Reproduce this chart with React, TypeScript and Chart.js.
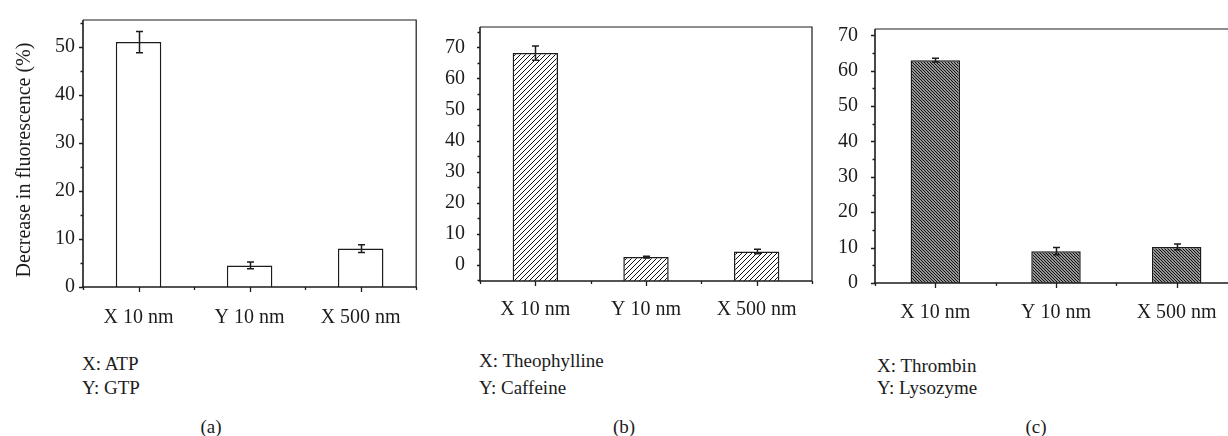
import React, { useEffect, useRef } from "react";
import { Chart, registerables } from "chart.js";

Chart.register(...registerables);

// ---------- data ----------
const categories = ["X 10 nm", "Y 10 nm", "X 500 nm"];

const valuesA = [51, 4.5, 8];
const errorsA = [2.2, 0.7, 0.8];
const valuesB = [68.2, 2.4, 4.2];
const errorsB = [2.3, 0.3, 0.7];
const valuesC = [63, 9, 10.2];
const errorsC = [0.5, 1.0, 0.8];

const yTicksA = [0, 10, 20, 30, 40, 50];
const yMinorA = [5, 15, 25, 35, 45, 55];
const yTicksB = [0, 10, 20, 30, 40, 50, 60, 70];
const yMinorB = [-5, 5, 15, 25, 35, 45, 55, 65, 75];
const yTicksC = [0, 10, 20, 30, 40, 50, 60, 70];
const yMinorC = [5, 15, 25, 35, 45, 55, 65];

const yRangeA = [0, 55.6];
const yRangeB = [-5.3, 76.6];
const yRangeC = [0, 71.8];

const yAxisTitle = "Decrease in fluorescence (%)";
const analytesA = ["X: ATP", "Y: GTP"];
const analytesB = ["X: Theophylline", "Y: Caffeine"];
const analytesC = ["X: Thrombin", "Y: Lysozyme"];
const panelLabels = ["(a)", "(b)", "(c)"];

const FONT = "'Liberation Serif', 'Times New Roman', serif";
const INK = "#1c1c1c";

// ---------- plugins ----------
const framePlugin = {
  id: "frameTicks",
  afterDatasetsDraw(chart: any) {
    const o = chart.options.plugins.frameTicks;
    if (!o) return;
    const { ctx, chartArea } = chart;
    const { left, right, top, bottom } = chartArea;
    const y = chart.scales.y;
    const x = chart.scales.x;
    ctx.save();
    ctx.strokeStyle = INK;
    // top & right frame
    ctx.lineWidth = 1.2;
    ctx.beginPath();
    ctx.moveTo(left, top);
    ctx.lineTo(right, top);
    ctx.lineTo(right, bottom);
    ctx.stroke();
    // left & bottom axes
    ctx.lineWidth = 1.6;
    ctx.beginPath();
    ctx.moveTo(left, top);
    ctx.lineTo(left, bottom);
    ctx.moveTo(left - 1, bottom);
    ctx.lineTo(right, bottom);
    ctx.stroke();
    // y ticks
    ctx.lineWidth = 1.3;
    ctx.beginPath();
    for (const v of o.major) {
      const py = Math.round(y.getPixelForValue(v)) + 0.5;
      ctx.moveTo(left, py);
      ctx.lineTo(left - o.majorLen, py);
    }
    for (const v of o.minor) {
      const py = Math.round(y.getPixelForValue(v)) + 0.5;
      if (py < top - 1 || py > bottom + 1) continue;
      ctx.moveTo(left, py);
      ctx.lineTo(left - o.minorLen, py);
    }
    // x ticks
    const n = chart.data.labels.length;
    for (let i = 0; i < n; i++) {
      const px = Math.round(x.getPixelForValue(i)) + 0.5;
      ctx.moveTo(px, bottom);
      ctx.lineTo(px, bottom + o.xMajorLen);
    }
    for (let i = 0; i <= n; i++) {
      let px;
      if (i === 0) px = left;
      else if (i === n) px = right;
      else px = (x.getPixelForValue(i - 1) + x.getPixelForValue(i)) / 2;
      px = Math.round(px) + 0.5;
      ctx.moveTo(px, bottom);
      ctx.lineTo(px, bottom + o.xMinorLen);
    }
    ctx.stroke();
    ctx.restore();
  },
};

const errorBarPlugin = {
  id: "errorBars",
  afterDatasetsDraw(chart: any) {
    const o = chart.options.plugins.errorBars;
    if (!o) return;
    const { ctx } = chart;
    const meta = chart.getDatasetMeta(0);
    const y = chart.scales.y;
    const vals = chart.data.datasets[0].data;
    ctx.save();
    ctx.strokeStyle = INK;
    ctx.lineWidth = 1.5;
    meta.data.forEach((bar: any, i: number) => {
      const v = vals[i];
      const e = o.errors[i];
      const x = Math.round(bar.x) + 0.5;
      const yt = y.getPixelForValue(v + e);
      const yb = y.getPixelForValue(v - e);
      ctx.beginPath();
      ctx.moveTo(x, yt);
      ctx.lineTo(x, yb);
      ctx.moveTo(x - o.cap, yt);
      ctx.lineTo(x + o.cap, yt);
      ctx.moveTo(x - o.cap, yb);
      ctx.lineTo(x + o.cap, yb);
      ctx.stroke();
    });
    ctx.restore();
  },
};

function makePattern(kind: "slash" | "dense"): CanvasPattern | string {
  const c = document.createElement("canvas");
  const s = kind === "slash" ? 5 : 3;
  c.width = s;
  c.height = s;
  const g = c.getContext("2d")!;
  g.fillStyle = "#ffffff";
  g.fillRect(0, 0, s, s);
  g.strokeStyle = "#111";
  if (kind === "slash") {
    g.lineWidth = 1;
    g.beginPath();
    g.moveTo(-1, s + 1);
    g.lineTo(s + 1, -1);
    g.moveTo(-1, 1);
    g.lineTo(1, -1);
    g.moveTo(s - 1, s + 1);
    g.lineTo(s + 1, s - 1);
    g.stroke();
  } else {
    g.lineWidth = 1.3;
    g.beginPath();
    g.moveTo(-1, -1);
    g.lineTo(s + 1, s + 1);
    g.moveTo(s - 1, -1);
    g.lineTo(s + 1, 1);
    g.moveTo(-1, s - 1);
    g.lineTo(1, s + 1);
    g.stroke();
  }
  const p = g.createPattern(c, "repeat");
  return p || "#777";
}

type PanelProps = {
  left: number;
  width: number;
  height: number;
  chartLeft: number;
  chartRight: number;
  chartTop: number;
  chartBottom: number;
  values: number[];
  errors: number[];
  yTicks: number[];
  yMinor: number[];
  yRange: number[];
  fill: "white" | "slash" | "dense";
  tickPadY: number;
  tickPadX: number;
  majorLen: number;
};

function Panel(p: PanelProps) {
  const ref = useRef<HTMLCanvasElement>(null);
  useEffect(() => {
    const canvas = ref.current!;
    const bg = p.fill === "white" ? "#ffffff" : makePattern(p.fill);
    const yAxisWidth = p.chartLeft - p.left;
    const xAxisHeight = p.height - p.chartBottom;
    const padRight = p.left + p.width - p.chartRight;
    const chart = new Chart(canvas, {
      type: "bar",
      data: {
        labels: categories,
        datasets: [
          {
            data: p.values,
            backgroundColor: bg as any,
            borderColor: INK,
            borderWidth: 1.5,
            base: p.yRange[0],
            barPercentage: 0.41,
            categoryPercentage: 1,
          } as any,
        ],
      },
      options: {
        animation: false,
        responsive: false,
        maintainAspectRatio: false,
        layout: { padding: { left: 0, right: padRight, top: p.chartTop, bottom: 0 } },
        plugins: {
          legend: { display: false },
          tooltip: { enabled: false },
          frameTicks: {
            major: p.yTicks,
            minor: p.yMinor,
            majorLen: p.majorLen,
            minorLen: 2.5,
            xMajorLen: 5,
            xMinorLen: 3,
          },
          errorBars: { errors: p.errors, cap: 3.5 },
        } as any,
        scales: {
          x: {
            type: "category",
            offset: true,
            grid: { display: false, drawTicks: false },
            border: { display: false },
            ticks: {
              color: INK,
              padding: p.tickPadX,
              maxRotation: 0,
              autoSkip: false,
              font: { family: FONT, size: 20 },
            },
            afterFit: (s: any) => {
              s.height = xAxisHeight;
            },
          },
          y: {
            type: "linear",
            min: p.yRange[0],
            max: p.yRange[1],
            grid: { display: false, drawTicks: false },
            border: { display: false },
            ticks: {
              color: INK,
              padding: p.tickPadY,
              font: { family: FONT, size: 20 },
              callback: (v: any) => String(v),
            },
            afterBuildTicks: (s: any) => {
              s.ticks = p.yTicks.map((v) => ({ value: v }));
            },
            afterFit: (s: any) => {
              s.width = yAxisWidth;
            },
          },
        },
      },
      plugins: [framePlugin, errorBarPlugin],
    });
    return () => chart.destroy();
  }, []);
  return (
    <canvas
      ref={ref}
      width={p.width}
      height={p.height}
      style={{ position: "absolute", left: p.left, top: 0, width: p.width, height: p.height }}
    />
  );
}

const textStyle: React.CSSProperties = {
  position: "absolute",
  fontFamily: FONT,
  fontSize: 19,
  lineHeight: "19px",
  color: INK,
  whiteSpace: "nowrap",
};

export default function App() {
  const H = 340;
  return (
    <div
      style={{
        position: "absolute",
        left: 0,
        top: 0,
        width: 1228,
        height: 436,
        overflow: "hidden",
        background: "#ffffff",
      }}
    >
      <Panel
        left={0}
        width={420}
        height={H}
        chartLeft={83}
        chartRight={418}
        chartTop={14}
        chartBottom={287}
        values={valuesA}
        errors={errorsA}
        yTicks={yTicksA}
        yMinor={yMinorA}
        yRange={yRangeA}
        fill="white"
        tickPadY={8}
        tickPadX={19}
        majorLen={4}
      />
      <Panel
        left={420}
        width={394}
        height={H}
        chartLeft={480}
        chartRight={812}
        chartTop={7}
        chartBottom={281}
        values={valuesB}
        errors={errorsB}
        yTicks={yTicksB}
        yMinor={yMinorB}
        yRange={yRangeB}
        fill="slash"
        tickPadY={15}
        tickPadX={17}
        majorLen={3}
      />
      <Panel
        left={814}
        width={426}
        height={H}
        chartLeft={875}
        chartRight={1237}
        chartTop={9}
        chartBottom={283}
        values={valuesC}
        errors={errorsC}
        yTicks={yTicksC}
        yMinor={yMinorC}
        yRange={yRangeC}
        fill="dense"
        tickPadY={17}
        tickPadX={18}
        majorLen={4}
      />

      <div
        style={{
          ...textStyle,
          fontSize: 20,
          lineHeight: "20px",
          width: 300,
          height: 20,
          left: 23 - 150,
          top: 160 - 10,
          textAlign: "center",
          transform: "rotate(-90deg)",
          transformOrigin: "150px 10px",
        }}
      >
        {yAxisTitle}
      </div>

      <div style={{ ...textStyle, left: 82, top: 354 }}>{analytesA[0]}</div>
      <div style={{ ...textStyle, left: 82, top: 378 }}>{analytesA[1]}</div>
      <div style={{ ...textStyle, left: 479, top: 351 }}>{analytesB[0]}</div>
      <div style={{ ...textStyle, left: 479, top: 378 }}>{analytesB[1]}</div>
      <div style={{ ...textStyle, left: 877, top: 356 }}>{analytesC[0]}</div>
      <div style={{ ...textStyle, left: 877, top: 378 }}>{analytesC[1]}</div>

      <div style={{ ...textStyle, left: 191, top: 417, width: 40, textAlign: "center" }}>{panelLabels[0]}</div>
      <div style={{ ...textStyle, left: 604, top: 417, width: 40, textAlign: "center" }}>{panelLabels[1]}</div>
      <div style={{ ...textStyle, left: 1016, top: 417, width: 40, textAlign: "center" }}>{panelLabels[2]}</div>
    </div>
  );
}
